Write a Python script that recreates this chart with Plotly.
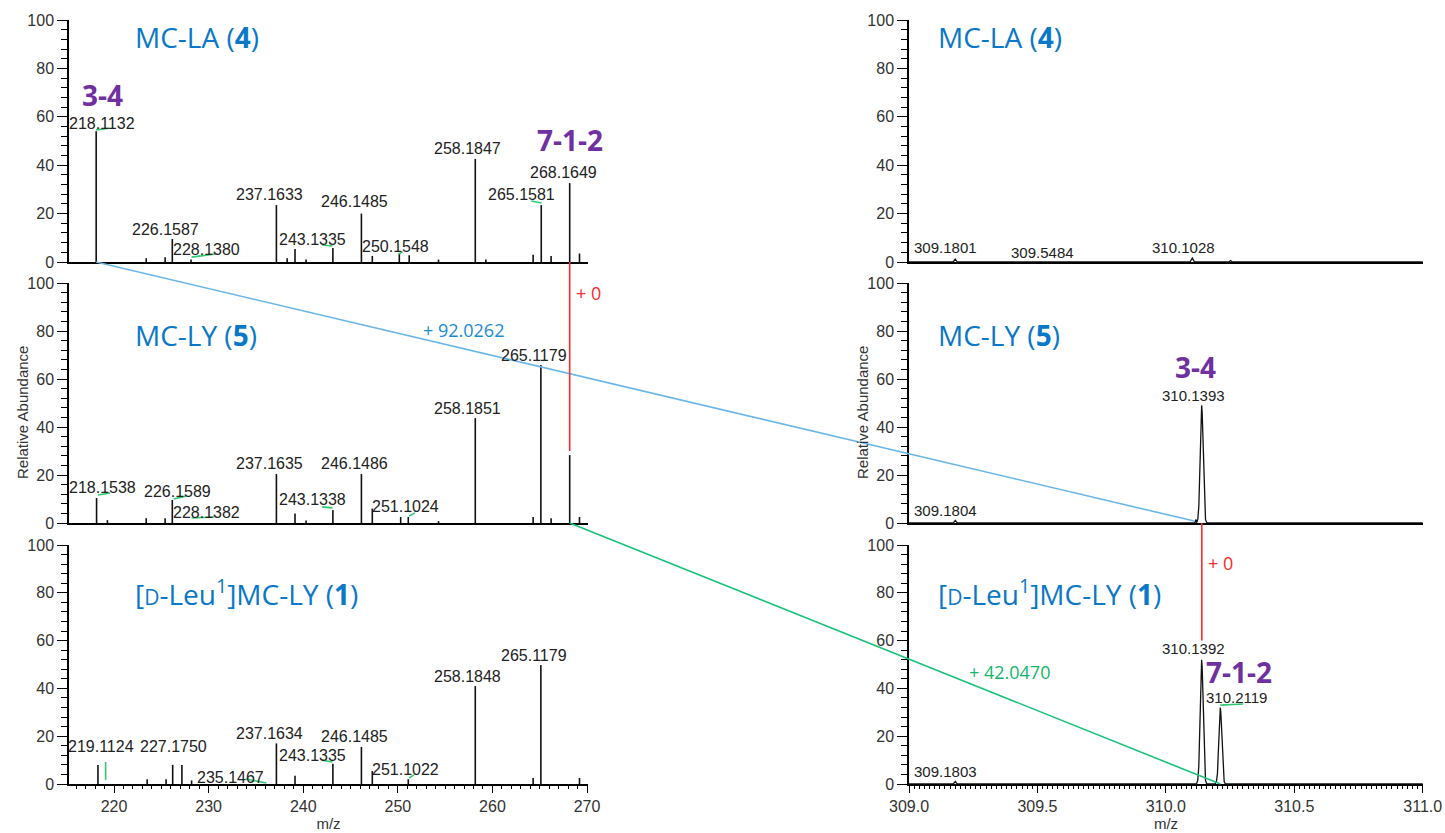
import plotly.graph_objects as go

# ---------------- product-ion stick spectra, m/z 215-270 ----------------
# MC-LA (4)
la_mz = [218.1132, 223.4, 225.4, 226.1587, 228.1380, 237.1633, 238.3, 239.13, 240.3,
         243.1335, 246.1485, 247.3, 250.1548, 251.2, 254.3, 258.1847, 259.3, 264.3,
         265.1581, 266.2, 268.1649, 269.2]
la_int = [54, 1.5, 2, 9.5, 1, 23.5, 1.5, 5.4, 1,
          5.8, 20, 2.5, 3.5, 2.8, 1, 42.6, 1, 3,
          23.5, 2.5, 32.6, 3.5]
la_labels = [(218.1132, 218.73, 57.4), (226.1587, 225.4, 13.6), (228.1380, 229.8, 5.0),
             (237.1633, 236.4, 27.7), (243.1335, 241.0, 9.5), (246.1485, 245.4, 24.8),
             (250.1548, 249.8, 6.6), (258.1847, 257.4, 46.7), (265.1581, 263.1, 27.7),
             (268.1649, 267.5, 36.8)]

# MC-LY (5)
ly_mz = [218.1538, 219.3, 223.4, 225.4, 226.1589, 237.1635, 239.13, 240.3, 243.1338,
         246.1486, 247.3, 250.3, 251.1024, 254.3, 258.1851, 264.3, 265.1179, 266.2,
         268.1649, 269.2]
ly_int = [10.4, 1.2, 2, 2, 9.6, 20.4, 4, 1, 5.4,
          20.4, 6, 2.5, 2.5, 0.8, 43.7, 2.5, 65.8, 2,
          28.3, 2.5]
ly_labels = [(218.1538, 218.73, 14.6), (226.1589, 226.7, 13.3), (228.1382, 229.8, 4.2),
             (237.1635, 236.4, 25.0), (243.1338, 241.0, 9.6), (246.1486, 245.4, 25.0),
             (251.1024, 250.8, 6.7), (258.1851, 257.4, 47.9), (265.1179, 264.4, 70.0)]

# [D-Leu1]MC-LY (1)
dl_mz = [218.3, 223.5, 225.5, 226.2, 227.1750, 228.2, 237.1634, 239.13, 243.1335,
         246.1485, 247.3, 251.1022, 258.1848, 264.3, 265.1179, 269.2]
dl_int = [8, 2, 2, 8, 8, 1.5, 17, 3.5, 8.5,
          15.5, 5.4, 2, 41, 2.5, 49.8, 2.5]
dl_labels = [(219.1124, 218.6, 15.5), (227.1750, 226.3, 15.5), (235.1467, 232.3, 2.9),
             (237.1634, 236.4, 21.3), (243.1335, 241.0, 12.1), (246.1485, 245.4, 19.7),
             (251.1022, 250.8, 5.9), (258.1848, 257.4, 44.8), (265.1179, 264.4, 53.6)]

# ---------------- profile spectra, m/z 309-311 ----------------
la_prof_mz = [309.0, 309.172, 309.1801, 309.188, 310.094, 310.1028, 310.112,
              310.245, 310.252, 310.259, 311.0]
la_prof_int = [0, 0, 1.2, 0, 0, 1.6, 0, 0, 0.6, 0, 0]
la_prof_labels = [(309.1801, 309.143, 5.8), (309.5484, 309.52, 4.1), (310.1028, 310.07, 6.2)]

ly_prof_mz = [309.0, 309.172, 309.1804, 309.188, 310.112, 310.117, 310.1193,
              310.1243, 310.1283, 310.1318, 310.1348, 310.1373, 310.1393, 310.1413,
              310.1438, 310.1468, 310.1503, 310.1543, 310.1593, 311.0]
ly_prof_int = [0, 0, 1.0, 0, 0, 1.5, 0,
               1.5, 7, 22, 37, 46, 49, 46,
               37, 22, 7, 1.5, 0, 0]
ly_prof_labels = [(309.1804, 309.143, 5.4), (310.1393, 310.108, 53.0)]

dl_prof_mz = [309.0, 309.172, 309.1803, 309.188, 310.1192, 310.1242, 310.1282,
              310.1317, 310.1347, 310.1372, 310.1392, 310.1412, 310.1437, 310.1467,
              310.1502, 310.1542, 310.1592, 310.1919, 310.1969, 310.2009, 310.2044,
              310.2074, 310.2099, 310.2119, 310.2139, 310.2164, 310.2194, 310.2229,
              310.2269, 310.2319, 311.0]
dl_prof_int = [0, 0, 1.0, 0, 0, 1.6, 7.5,
               23, 39, 49, 52, 49, 39, 23,
               7.5, 1.6, 0, 0, 1, 4.6, 14,
               24, 30, 32, 30, 24, 14, 4.6,
               1, 0, 0]
dl_prof_labels = [(309.1803, 309.143, 5.4), (310.1392, 310.108, 56.5), (310.2119, 310.274, 36.4)]

# compound names and fragment annotations
names = ["MC-LA (<b>4</b>)", "MC-LY (<b>5</b>)",
         "[<span style='font-size:21px'>D</span>-Leu<sup>1</sup>]MC-LY (<b>1</b>)"]
name_y = [93, 78.5, 80]
fragments = [(1, "3-4", 218.83, 69.0), (1, "7-1-2", 268.2, 50.5),
             (4, "3-4", 310.116, 65.0), (6, "7-1-2", 310.286, 47.0)]

# small green centroid markers drawn by the acquisition software
green_marks = {
    1: [(218.1, 54.6, 219.5, 55.3), (228.2, 2.0, 230.7, 3.3), (242.0, 7.0, 243.1, 6.6),
        (250.1, 3.3, 250.5, 4.3), (264.1, 25.2, 265.2, 24.4)],
    3: [(218.3, 11.7, 219.6, 12.5), (226.3, 10.0, 227.7, 11.3), (228.2, 2.1, 230.6, 2.5),
        (242.0, 6.7, 243.1, 6.3), (251.2, 2.9, 251.8, 4.2)],
    5: [(219.1124, 1.7, 219.1124, 9.2), (233.9, 2.1, 236.1, 0.4), (242.0, 10.0, 243.1, 9.2),
        (251.2, 2.5, 251.7, 3.8)],
    6: [(310.212, 33.0, 310.301, 33.5)],
}

# ---------------- layout geometry ----------------
W, H = 1445, 833
X_RANGE = [[215.24, 270.1], [309.0, 311.0]]
X_DOM = [[69 / W, 588 / W], [909 / W, 1423 / W]]
Y_DOM = [[1 - 262 / H, 1 - 20 / H], [1 - 523 / H, 1 - 283 / H], [1 - 784 / H, 1 - 545 / H]]

BLUE = "#0a78c8"
PURPLE = "#7030a0"
LBL_FONT = "Liberation Sans, Arial, sans-serif"
TITLE_FONT = "Open Sans, sans-serif"


def ax(p):
    return ("x", "y") if p == 1 else (f"x{p}", f"y{p}")


def to_paper(p, x, y):
    row, col = (p - 1) // 2, (p - 1) % 2
    xr, xd, yd = X_RANGE[col], X_DOM[col], Y_DOM[row]
    px = xd[0] + (x - xr[0]) / (xr[1] - xr[0]) * (xd[1] - xd[0])
    py = yd[0] + y / 100.0 * (yd[1] - yd[0])
    return px, py


def sticks(mz, inten):
    xs, ys = [], []
    for m, v in zip(mz, inten):
        xs += [m, m, None]
        ys += [0, v, None]
    return xs, ys


fig = go.Figure()

stick_sets = {1: (la_mz, la_int, la_labels), 3: (ly_mz, ly_int, ly_labels),
              5: (dl_mz, dl_int, dl_labels)}
prof_sets = {2: (la_prof_mz, la_prof_int, la_prof_labels),
             4: (ly_prof_mz, ly_prof_int, ly_prof_labels),
             6: (dl_prof_mz, dl_prof_int, dl_prof_labels)}

annotations = []

for p, (mz, inten, labels) in stick_sets.items():
    xa, ya = ax(p)
    xs, ys = sticks(mz, inten)
    fig.add_trace(go.Scatter(x=xs, y=ys, mode="lines", xaxis=xa, yaxis=ya,
                             line=dict(color="#111111", width=1.6),
                             hoverinfo="skip", showlegend=False))
    for m, lx, ly in labels:
        annotations.append(dict(x=lx, y=ly, xref=xa, yref=ya, text=f"{m:.4f}",
                                showarrow=False, xanchor="center", yanchor="middle",
                                font=dict(family=LBL_FONT, size=16, color="#222222")))

for p, (mz, inten, labels) in prof_sets.items():
    xa, ya = ax(p)
    fig.add_trace(go.Scatter(x=mz, y=inten, mode="lines", xaxis=xa, yaxis=ya,
                             line=dict(color="#111111", width=1.3),
                             hoverinfo="skip", showlegend=False))
    for m, lx, ly in labels:
        annotations.append(dict(x=lx, y=ly, xref=xa, yref=ya, text=f"{m:.4f}",
                                showarrow=False, xanchor="center", yanchor="middle",
                                font=dict(family=LBL_FONT, size=15, color="#222222")))

for p, segs in green_marks.items():
    xa, ya = ax(p)
    xs, ys = [], []
    for x0, y0, x1, y1 in segs:
        xs += [x0, x1, None]
        ys += [y0, y1, None]
    fig.add_trace(go.Scatter(x=xs, y=ys, mode="lines", xaxis=xa, yaxis=ya,
                             line=dict(color="#2ecc71", width=1.6),
                             hoverinfo="skip", showlegend=False))

# compound names in each panel
for row in range(3):
    for col in range(2):
        p = row * 2 + col + 1
        xa, ya = ax(p)
        x0 = 222.0 if col == 0 else 309.104
        annotations.append(dict(x=x0, y=name_y[row], xref=xa, yref=ya, text=names[row],
                                showarrow=False, xanchor="left", yanchor="middle",
                                font=dict(family=TITLE_FONT, size=28, color=BLUE)))

for p, txt, x, y in fragments:
    xa, ya = ax(p)
    annotations.append(dict(x=x, y=y, xref=xa, yref=ya, text=f"<b>{txt}</b>",
                            showarrow=False, xanchor="center", yanchor="middle",
                            font=dict(family=TITLE_FONT, size=28, color=PURPLE)))

# y-axis titles beside the middle row
for xp in (22 / W, 862 / W):
    annotations.append(dict(x=xp, y=1 - 413 / H, xref="paper", yref="paper",
                            text="Relative Abundance", textangle=-90, showarrow=False,
                            xanchor="center", yanchor="middle",
                            font=dict(family=LBL_FONT, size=15, color="#333333")))

# mass-shift connectors between spectra
RED, LBLUE, GREEN = "#ff2a2a", "#6bb6e8", "#19c27a"
connectors = [
    ((1, 218.1132, 0), (4, 310.11, 0.8), LBLUE),
    ((1, 268.1649, 0), (3, 268.1649, 30), RED),
    ((4, 310.1393, 0), (6, 310.1393, 60), RED),
    ((3, 268.1649, 0), (6, 310.2119, 0), GREEN),
]
shapes = []
for a, b, c in connectors:
    x0, y0 = to_paper(*a)
    x1, y1 = to_paper(*b)
    shapes.append(dict(type="line", xref="paper", yref="paper", x0=x0, y0=y0, x1=x1, y1=y1,
                       line=dict(color=c, width=1.6)))

shift_texts = [
    (3, 256.9, 80.4, "+ 92.0262", "#1a8ad4", "center"),
    (3, 268.6, 95.8, "+ 0", RED, "left"),
    (6, 310.158, 92.5, "+ 0", RED, "left"),
    (6, 309.39, 46.9, "+ 42.0470", "#12b86a", "center"),
]
for p, x, y, t, c, anc in shift_texts:
    xa, ya = ax(p)
    annotations.append(dict(x=x, y=y, xref=xa, yref=ya, text=t, showarrow=False,
                            xanchor=anc, yanchor="middle",
                            font=dict(family=TITLE_FONT, size=18, color=c)))

layout = dict(template="none", width=W, height=H, margin=dict(l=0, r=0, t=0, b=0),
              paper_bgcolor="white", plot_bgcolor="white", showlegend=False,
              font=dict(family=LBL_FONT, color="#333333"),
              annotations=annotations, shapes=shapes)

tick_font = dict(family=LBL_FONT, size=16, color="#333333")
for row in range(3):
    for col in range(2):
        p = row * 2 + col + 1
        xk = "xaxis" if p == 1 else f"xaxis{p}"
        yk = "yaxis" if p == 1 else f"yaxis{p}"
        xa, ya = ax(p)
        xrange = list(X_RANGE[col])
        if col == 1:
            xrange[1] += 0.001  # keep the 311.0 end tick
        xaxis = dict(domain=X_DOM[col], range=xrange, anchor=ya, automargin=False,
                     showline=True, linecolor="black", linewidth=2,
                     showgrid=False, zeroline=False)
        if row == 2:
            if col == 0:
                xaxis.update(tick0=0, dtick=10, minor=dict(ticks="outside", ticklen=3, dtick=1,
                                                           tickcolor="black", tickwidth=1))
            else:
                xaxis.update(tick0=309, dtick=0.5, tickformat=".1f",
                             minor=dict(ticks="outside", ticklen=3, dtick=0.02,
                                        tickcolor="black", tickwidth=1))
            xaxis.update(ticks="outside", ticklen=7, tickwidth=1.3, tickcolor="black",
                         tickfont=tick_font, ticklabeloverflow="allow",
                         title=dict(text="m/z", standoff=4,
                                    font=dict(family=LBL_FONT, size=15, color="#333333")))
        else:
            xaxis.update(showticklabels=False, ticks="")
        yaxis = dict(domain=Y_DOM[row], range=[0, 100], anchor=xa, automargin=False,
                     showline=True, linecolor="black", linewidth=1.5,
                     showgrid=False, zeroline=False,
                     ticks="outside", ticklen=10, tickwidth=1.3, tickcolor="black",
                     tick0=0, dtick=20, tickfont=tick_font,
                     minor=dict(ticks="outside", ticklen=6, dtick=4, tickcolor="black",
                                tickwidth=1))
        layout[xk] = xaxis
        layout[yk] = yaxis

fig.update_layout(**layout)
fig.write_html("out.html")
